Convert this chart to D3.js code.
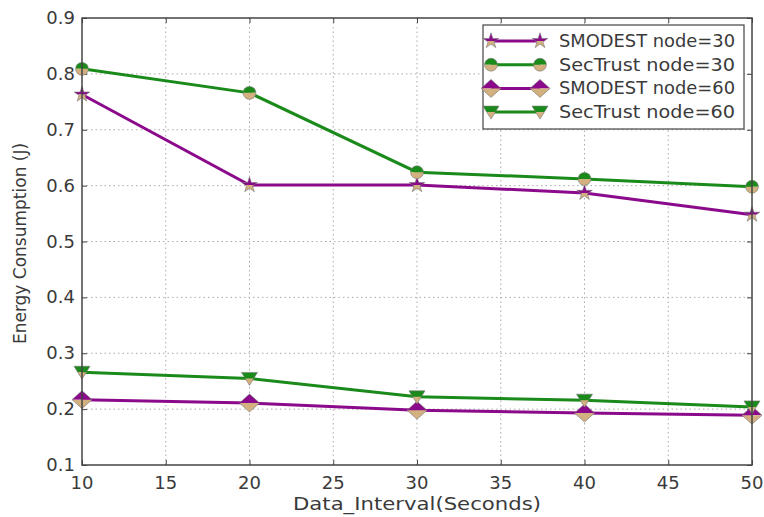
<!DOCTYPE html>
<html>
<head>
<meta charset="utf-8">
<script src="https://cdn.jsdelivr.net/npm/d3@7"></script>
<style>
  body { margin: 0; background: #fff; }
  text { font-family: "DejaVu Sans", sans-serif; fill: #3a3a3a; }
</style>
</head>
<body>
<script>
  // data
  var intervals = [10, 20, 30, 40, 50];
  var smodest30 = [0.763, 0.601, 0.601, 0.587, 0.548];
  var sectrust30 = [0.809, 0.766, 0.624, 0.612, 0.598];
  var smodest60 = [0.217, 0.211, 0.198, 0.193, 0.189];
  var sectrust60 = [0.266, 0.255, 0.222, 0.216, 0.204];
  var xTicks = [10, 15, 20, 25, 30, 35, 40, 45, 50];
  var yTicks = [0.1, 0.2, 0.3, 0.4, 0.5, 0.6, 0.7, 0.8, 0.9];
  var seriesNames = ["SMODEST node=30", "SecTrust node=30", "SMODEST node=60", "SecTrust node=60"];

  var purple = "#8b0a8b", green = "#1a8a1a", tan = "#d2b07f";

  var series = [
    {name: seriesNames[0], values: smodest30, color: purple, sym: "star"},
    {name: seriesNames[1], values: sectrust30, color: green, sym: "circle"},
    {name: seriesNames[2], values: smodest60, color: purple, sym: "diamond"},
    {name: seriesNames[3], values: sectrust60, color: green, sym: "tridown"}
  ];

  var W = 764, H = 517;
  var mLeft = 82, mRight = 752, mTop = 18, mBottom = 465;

  var svg = d3.select("body").append("svg")
    .attr("width", W).attr("height", H);

  var defs = svg.append("defs");
  defs.append("clipPath").attr("id", "topHalf")
    .append("rect").attr("x", -20).attr("y", -20).attr("width", 40).attr("height", 20);
  defs.append("clipPath").attr("id", "botHalf")
    .append("rect").attr("x", -20).attr("y", 0).attr("width", 40).attr("height", 20);

  var x = d3.scaleLinear().domain([10, 50]).range([mLeft, mRight]);
  var y = d3.scaleLinear().domain([0.1, 0.9]).range([mBottom, mTop]);

  // grid
  var grid = svg.append("g");
  grid.selectAll(".gx").data(xTicks.slice(1, -1)).enter().append("line")
    .attr("x1", function (d) { return x(d); }).attr("x2", function (d) { return x(d); })
    .attr("y1", mTop).attr("y2", mBottom)
    .attr("stroke", "#aaa").attr("stroke-width", 1).attr("stroke-dasharray", "1.5,3");
  grid.selectAll(".gy").data(yTicks.slice(1, -1)).enter().append("line")
    .attr("y1", function (d) { return y(d); }).attr("y2", function (d) { return y(d); })
    .attr("x1", mLeft).attr("x2", mRight)
    .attr("stroke", "#aaa").attr("stroke-width", 1).attr("stroke-dasharray", "1.5,3");

  // axes: ticks inward on all four sides
  function noDomain(g) { g.select(".domain").remove(); }
  svg.append("g").attr("transform", "translate(0," + mBottom + ")")
    .call(d3.axisTop(x).tickValues(xTicks).tickSize(5).tickFormat("")).call(noDomain);
  svg.append("g").attr("transform", "translate(0," + mTop + ")")
    .call(d3.axisBottom(x).tickValues(xTicks).tickSize(5).tickFormat("")).call(noDomain);
  svg.append("g").attr("transform", "translate(" + mLeft + ",0)")
    .call(d3.axisRight(y).tickValues(yTicks).tickSize(5).tickFormat("")).call(noDomain);
  svg.append("g").attr("transform", "translate(" + mRight + ",0)")
    .call(d3.axisLeft(y).tickValues(yTicks).tickSize(5).tickFormat("")).call(noDomain);
  svg.selectAll(".tick line").attr("stroke", "#444");

  svg.selectAll(".xl").data(xTicks).enter().append("text")
    .attr("x", function (d) { return x(d); }).attr("y", mBottom + 24)
    .attr("text-anchor", "middle").style("font-size", "18px")
    .text(function (d) { return d; });
  svg.selectAll(".yl").data(yTicks).enter().append("text")
    .attr("x", mLeft - 7).attr("y", function (d) { return y(d) + 6; })
    .attr("text-anchor", "end").style("font-size", "18px")
    .text(function (d) { return d3.format(".1f")(d); });

  svg.append("text").attr("x", 417).attr("y", 510)
    .attr("text-anchor", "middle").style("font-size", "18px")
    .attr("textLength", 248).attr("lengthAdjust", "spacingAndGlyphs")
    .text("Data_Interval(Seconds)");
  svg.append("text").attr("transform", "translate(26," + ((mTop + mBottom) / 2 + 2) + ") rotate(-90)")
    .attr("text-anchor", "middle").style("font-size", "17px")
    .text("Energy Consumption (J)");

  function symPath(s) {
    if (s === "star") return d3.symbol(d3.symbolStar, 75)();
    if (s === "circle") return d3.symbol(d3.symbolCircle, 130)();
    if (s === "diamond") return "M0,-9L10,0L0,9L-10,0Z";
    return "M-8,-6L8,-6L0,7Z";
  }

  function marker(g, s, color) {
    var p = symPath(s);
    g.append("path").attr("d", p).attr("fill", color).attr("clip-path", "url(#topHalf)");
    g.append("path").attr("d", p).attr("fill", tan).attr("clip-path", "url(#botHalf)");
    g.append("path").attr("d", p).attr("fill", "none").attr("stroke", "#777").attr("stroke-width", 0.6);
  }

  var line = d3.line()
    .x(function (d, i) { return x(intervals[i]); })
    .y(function (d) { return y(d); });

  var plot = svg.append("g");
  series.forEach(function (s) {
    plot.append("path").datum(s.values).attr("d", line)
      .attr("fill", "none").attr("stroke", s.color).attr("stroke-width", 3);
    s.values.forEach(function (v, i) {
      var g = plot.append("g").attr("transform", "translate(" + x(intervals[i]) + "," + y(v) + ")");
      marker(g, s.sym, s.color);
    });
  });

  // frame
  svg.append("rect").attr("x", mLeft).attr("y", mTop)
    .attr("width", mRight - mLeft).attr("height", mBottom - mTop)
    .attr("fill", "none").attr("stroke", "#444").attr("stroke-width", 1.5);

  // legend
  var lg = svg.append("g");
  lg.append("rect").attr("x", 483).attr("y", 25).attr("width", 261).attr("height", 104)
    .attr("fill", "#fff").attr("stroke", "#444").attr("stroke-width", 1.2);
  series.forEach(function (s, i) {
    var ly = 41 + i * 23.7;
    lg.append("line").attr("x1", 491).attr("x2", 540).attr("y1", ly).attr("y2", ly)
      .attr("stroke", s.color).attr("stroke-width", 3);
    [491, 540].forEach(function (mx) {
      marker(lg.append("g").attr("transform", "translate(" + mx + "," + ly + ")"), s.sym, s.color);
    });
    lg.append("text").attr("x", 559).attr("y", ly + 6).style("font-size", "17px")
      .attr("textLength", 176).attr("lengthAdjust", "spacingAndGlyphs").text(s.name);
  });
</script>
</body>
</html>
